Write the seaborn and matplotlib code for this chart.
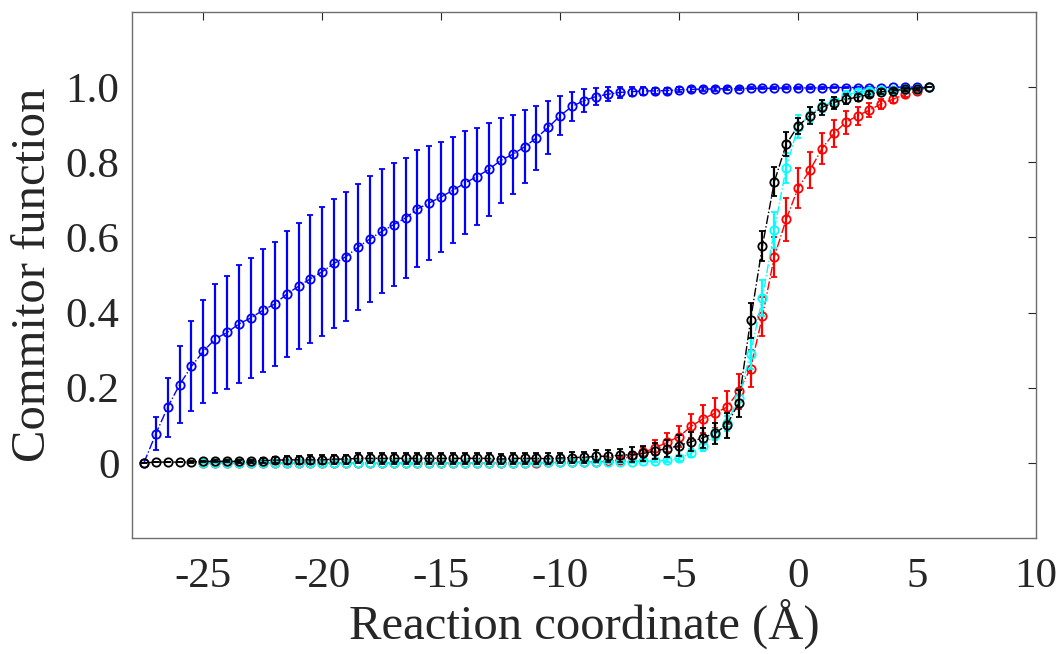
import numpy as np
import pandas as pd
import matplotlib
matplotlib.use("Agg")
import matplotlib.pyplot as plt
import seaborn as sns

# ---------------- data ----------------
x_all = [-27.5, -27.0, -26.5, -26.0, -25.5, -25.0, -24.5, -24.0, -23.5, -23.0,
         -22.5, -22.0, -21.5, -21.0, -20.5, -20.0, -19.5, -19.0, -18.5, -18.0,
         -17.5, -17.0, -16.5, -16.0, -15.5, -15.0, -14.5, -14.0, -13.5, -13.0,
         -12.5, -12.0, -11.5, -11.0, -10.5, -10.0, -9.5, -9.0, -8.5, -8.0,
         -7.5, -7.0, -6.5, -6.0, -5.5, -5.0, -4.5, -4.0, -3.5, -3.0,
         -2.5, -2.0, -1.5, -1.0, -0.5, 0.0, 0.5, 1.0, 1.5, 2.0,
         2.5, 3.0, 3.5, 4.0, 4.5, 5.0, 5.5]

blue_y = [0.000, 0.077, 0.148, 0.208, 0.257, 0.297, 0.330, 0.347, 0.370, 0.386,
          0.406, 0.423, 0.449, 0.470, 0.490, 0.509, 0.531, 0.549, 0.574, 0.596,
          0.616, 0.634, 0.652, 0.676, 0.692, 0.708, 0.726, 0.745, 0.762, 0.781,
          0.805, 0.821, 0.841, 0.865, 0.893, 0.924, 0.949, 0.964, 0.975, 0.981,
          0.986, 0.988, 0.990, 0.990, 0.991, 0.993, 0.994, 0.995, 0.995, 0.996,
          0.996, 0.997, 0.997, 0.997, 0.998, 0.998, 0.998, 0.998, 0.999, 0.999,
          0.999, 0.999, 0.999, 1.000, 1.000, 1.000, 1.000]
blue_err = [0.000, 0.044, 0.078, 0.103, 0.120, 0.137, 0.145, 0.151, 0.157, 0.160,
            0.163, 0.165, 0.167, 0.168, 0.170, 0.171, 0.171, 0.171, 0.168, 0.167,
            0.165, 0.163, 0.160, 0.156, 0.152, 0.147, 0.141, 0.137, 0.129, 0.124,
            0.113, 0.106, 0.097, 0.085, 0.070, 0.052, 0.038, 0.030, 0.022, 0.019,
            0.014, 0.012, 0.010, 0.009, 0.008, 0.007, 0.006, 0.005, 0.005, 0.004,
            0.004, 0.003, 0.003, 0.003, 0.003, 0.002, 0.002, 0.002, 0.002, 0.002,
            0.001, 0.001, 0.001, 0.001, 0.001, 0.001, 0.000]

black_y = [0.000, 0.002, 0.002, 0.002, 0.002, 0.004, 0.004, 0.004, 0.004, 0.004,
           0.006, 0.007, 0.008, 0.008, 0.008, 0.008, 0.010, 0.010, 0.012, 0.012,
           0.012, 0.012, 0.012, 0.012, 0.012, 0.012, 0.012, 0.012, 0.012, 0.012,
           0.010, 0.012, 0.012, 0.012, 0.011, 0.013, 0.014, 0.015, 0.017, 0.018,
           0.020, 0.022, 0.025, 0.032, 0.038, 0.046, 0.056, 0.067, 0.079, 0.100,
           0.159, 0.379, 0.577, 0.748, 0.848, 0.897, 0.924, 0.946, 0.959, 0.968,
           0.973, 0.981, 0.988, 0.990, 0.995, 0.996, 1.000]
black_err = [0.000, 0.001, 0.001, 0.001, 0.002, 0.002, 0.003, 0.003, 0.004, 0.004,
             0.006, 0.008, 0.010, 0.011, 0.012, 0.012, 0.012, 0.012, 0.013, 0.013,
             0.014, 0.014, 0.014, 0.014, 0.014, 0.014, 0.014, 0.014, 0.014, 0.014,
             0.014, 0.014, 0.014, 0.014, 0.014, 0.014, 0.015, 0.015, 0.016, 0.017,
             0.018, 0.019, 0.021, 0.021, 0.022, 0.027, 0.025, 0.027, 0.028, 0.033,
             0.036, 0.047, 0.041, 0.039, 0.032, 0.022, 0.022, 0.019, 0.016, 0.013,
             0.010, 0.008, 0.006, 0.005, 0.004, 0.003, 0.000]

# cyan and red series start at -25.0
x_cr = [-25.0, -24.5, -24.0, -23.5, -23.0, -22.5, -22.0, -21.5, -21.0, -20.5,
        -20.0, -19.5, -19.0, -18.5, -18.0, -17.5, -17.0, -16.5, -16.0, -15.5,
        -15.0, -14.5, -14.0, -13.5, -13.0, -12.5, -12.0, -11.5, -11.0, -10.5,
        -10.0, -9.5, -9.0, -8.5, -8.0, -7.5, -7.0, -6.5, -6.0, -5.5,
        -5.0, -4.5, -4.0, -3.5, -3.0, -2.5, -2.0, -1.5, -1.0, -0.5,
        0.0, 0.5, 1.0, 1.5, 2.0, 2.5, 3.0, 3.5, 4.0, 4.5,
        5.0, 5.5]

cyan_y = [0.000, 0.000, 0.000, 0.000, 0.000, 0.000, 0.000, 0.000, 0.000, 0.000,
          0.000, 0.000, 0.000, 0.000, 0.000, 0.000, 0.000, 0.000, 0.000, 0.000,
          0.000, 0.000, 0.000, 0.000, 0.000, 0.000, 0.000, 0.000, 0.001, 0.001,
          0.001, 0.002, 0.002, 0.002, 0.002, 0.003, 0.003, 0.005, 0.005, 0.007,
          0.012, 0.026, 0.044, 0.075, 0.106, 0.172, 0.291, 0.439, 0.620, 0.786,
          0.895, 0.926, 0.950, 0.963, 0.979, 0.986, 0.990, 0.992, 0.993, 0.995,
          0.996, 1.000]
cyan_err = [0.001, 0.001, 0.001, 0.001, 0.001, 0.001, 0.001, 0.001, 0.001, 0.001,
            0.001, 0.001, 0.001, 0.001, 0.001, 0.001, 0.001, 0.001, 0.001, 0.001,
            0.001, 0.001, 0.001, 0.001, 0.001, 0.001, 0.001, 0.001, 0.002, 0.002,
            0.002, 0.002, 0.002, 0.003, 0.003, 0.003, 0.003, 0.004, 0.004, 0.005,
            0.008, 0.010, 0.012, 0.015, 0.020, 0.022, 0.042, 0.047, 0.049, 0.040,
            0.030, 0.020, 0.015, 0.012, 0.010, 0.008, 0.006, 0.005, 0.004, 0.003,
            0.002, 0.000]

red_y = [0.000, 0.000, 0.000, 0.000, 0.000, 0.000, 0.000, 0.000, 0.000, 0.000,
         0.000, 0.000, 0.000, 0.000, 0.000, 0.000, 0.000, 0.000, 0.000, 0.000,
         0.000, 0.000, 0.000, 0.000, 0.000, 0.000, 0.000, 0.000, 0.000, 0.001,
         0.001, 0.002, 0.002, 0.003, 0.004, 0.008, 0.018, 0.028, 0.040, 0.055,
         0.070, 0.097, 0.117, 0.132, 0.148, 0.190, 0.251, 0.390, 0.549, 0.648,
         0.732, 0.779, 0.836, 0.877, 0.906, 0.924, 0.939, 0.956, 0.968, 0.981,
         0.990, 1.000]
red_err = [0.001, 0.001, 0.001, 0.001, 0.001, 0.001, 0.001, 0.001, 0.001, 0.001,
           0.001, 0.001, 0.001, 0.001, 0.001, 0.001, 0.001, 0.001, 0.001, 0.001,
           0.001, 0.001, 0.001, 0.001, 0.001, 0.001, 0.001, 0.001, 0.002, 0.002,
           0.002, 0.002, 0.003, 0.003, 0.004, 0.006, 0.010, 0.015, 0.020, 0.025,
           0.028, 0.032, 0.037, 0.040, 0.044, 0.047, 0.049, 0.052, 0.053, 0.058,
           0.054, 0.048, 0.041, 0.035, 0.031, 0.024, 0.019, 0.013, 0.010, 0.008,
           0.005, 0.000]

x_ticks = [-25, -20, -15, -10, -5, 0, 5, 10]
x_tick_labels = ["-25", "-20", "-15", "-10", "-5", "0", "5", "10"]
y_ticks = [0.0, 0.2, 0.4, 0.6, 0.8, 1.0]
y_tick_labels = ["0", "0.2", "0.4", "0.6", "0.8", "1.0"]

# ---------------- style ----------------
sns.set_theme(style="white")
plt.rcParams['font.family'] = ['Liberation Serif', 'DejaVu Serif']
plt.rcParams['axes.unicode_minus'] = False

fig = plt.figure(figsize=(10.62, 6.54), dpi=100)
ax = fig.add_axes([132 / 1062, 1 - 538 / 654, (1036 - 132) / 1062, (538 - 12) / 654])

series = [
    (x_all, blue_y, blue_err, "#0000ff"),
    (x_cr, red_y, red_err, "#ff0000"),
    (x_cr, cyan_y, cyan_err, "#00ffff"),
    (x_all, black_y, black_err, "#000000"),
]

for xs, ys, es, col in series:
    df = pd.DataFrame({"x": xs, "y": ys})
    ax.errorbar(xs, ys, yerr=es, fmt="none", ecolor=col, elinewidth=1.6,
                capsize=2.2, capthick=1.3)
    sns.lineplot(data=df, x="x", y="y", ax=ax, color=col, linestyle="-.",
                 linewidth=1.0, marker="o", markersize=6,
                 markerfacecolor="none", markeredgecolor=col,
                 markeredgewidth=1.3, sort=False, estimator=None)

ax.set_xlim(-28, 10)
ax.set_ylim(-0.2, 1.2)
ax.set_xticks(x_ticks)
ax.set_xticklabels(x_tick_labels)
ax.set_yticks(y_ticks)
ax.set_yticklabels(y_tick_labels)
ax.tick_params(direction="in", length=6, width=0.8, colors="#262626",
               top=True, right=True, labelsize=31, pad=14)
ax.tick_params(axis="y", pad=9)
for sp in ax.spines.values():
    sp.set_color("#6e6e6e")
    sp.set_linewidth(1.0)
    sp.set_visible(True)

ax.set_xlabel("Reaction coordinate (Å)", fontsize=35, color="#262626", labelpad=2)
ax.set_ylabel("Commitor function", fontsize=35, color="#262626", labelpad=8)
ax.grid(False)

fig.savefig("out.png", dpi=100, facecolor="white")
